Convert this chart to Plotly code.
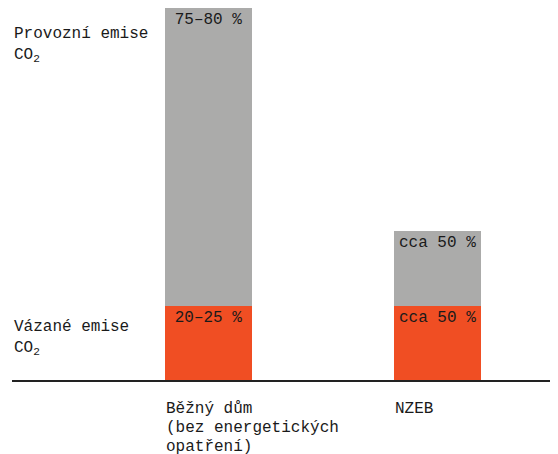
import plotly.graph_objects as go

categories = ["Běžný dům", "NZEB"]
category_labels = [["Běžný dům", "(bez energetických", "opatření)"], ["NZEB"]]
embodied = [20, 20]          # Vázané emise CO2
operational = [80, 20]       # Provozní emise CO2
embodied_text = ["20–25 %", "cca 50 %"]
operational_text = ["75–80 %", "cca 50 %"]

FONT = "Liberation Mono, DejaVu Sans Mono, monospace"
ORANGE = "#F04E23"
GRAY = "#ABABAA"
xpos = [0, 1]

fig = go.Figure()
fig.add_trace(go.Bar(
    x=xpos, y=embodied, marker=dict(color=ORANGE, line=dict(width=0)),
    text=embodied_text, textposition="inside", insidetextanchor="end",
    textfont=dict(family=FONT, size=16, color="#1a1a1a"), width=0.38,
    hoverinfo="skip", cliponaxis=False,
))
fig.add_trace(go.Bar(
    x=xpos, y=operational, marker=dict(color=GRAY, line=dict(width=0)),
    text=operational_text, textposition="inside", insidetextanchor="end",
    textfont=dict(family=FONT, size=16, color="#1a1a1a"), width=0.38,
    hoverinfo="skip", cliponaxis=False,
))

annotations = []
for xi, lines in zip(xpos, category_labels):
    for k, line in enumerate(lines):
        annotations.append(dict(
            x=xi, y=0, xref="x", yref="y", text=line, showarrow=False,
            xanchor="left", yanchor="top", align="left",
            xshift=-43.5, yshift=-19 - 19 * k, borderpad=0,
            font=dict(family=FONT, size=16, color="#1a1a1a"),
        ))
annotations.append(dict(
    x=0, y=embodied[0] + operational[0], xref="paper", yref="y",
    text="Provozní emise<br>CO<sub>2</sub>", showarrow=False,
    xanchor="left", yanchor="top", align="left", yshift=-15,
    font=dict(family=FONT, size=16, color="#1a1a1a"),
))
annotations.append(dict(
    x=0, y=embodied[0], xref="paper", yref="y",
    text="Vázané emise<br>CO<sub>2</sub>", showarrow=False,
    xanchor="left", yanchor="top", align="left", yshift=-10,
    font=dict(family=FONT, size=16, color="#1a1a1a"),
))

fig.update_layout(
    barmode="stack", width=550, height=446,
    margin=dict(l=4, r=0, t=0, b=74),
    paper_bgcolor="white", plot_bgcolor="white",
    showlegend=False, annotations=annotations,
    font=dict(family=FONT, size=16, color="#1a1a1a"),
    uniformtext=dict(mode="show", minsize=16),
)
fig.update_xaxes(range=[-0.858, 1.526], showticklabels=False, showgrid=False,
                 zeroline=False, showline=True, linecolor="#222", linewidth=1.5,
                 ticks="")
fig.update_yaxes(range=[0, 100], visible=False, showgrid=False, zeroline=False)

fig.write_html("out.html")
